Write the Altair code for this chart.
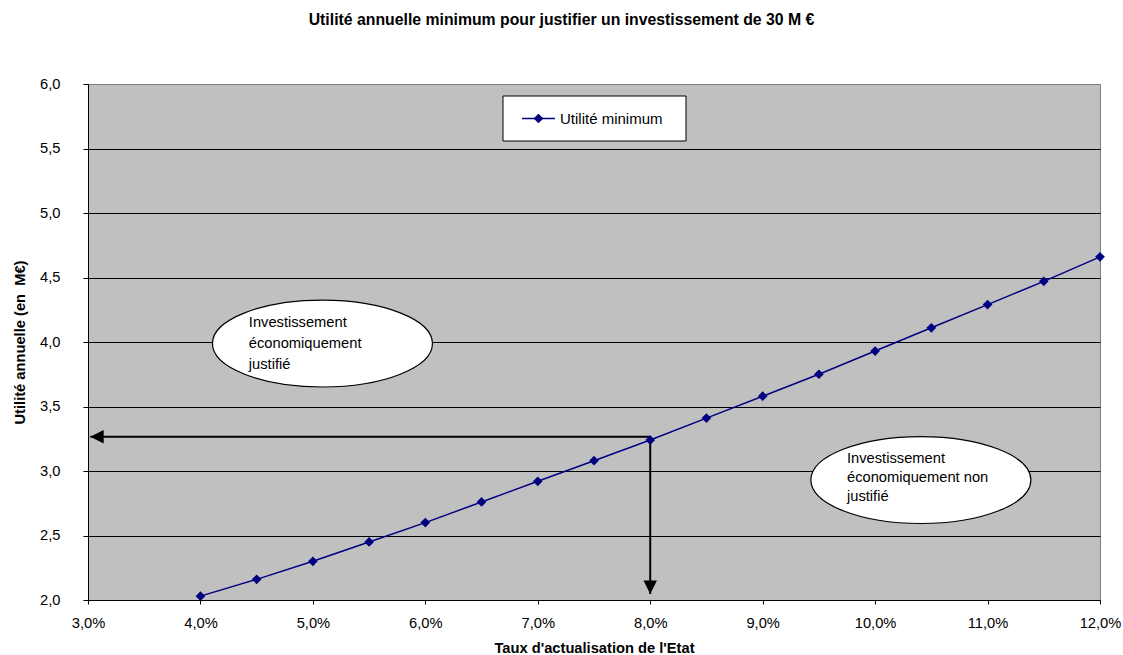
import altair as alt
import pandas as pd

# Discount rate (%) and minimum annual utility (M€)
taux = [4.0, 4.5, 5.0, 5.5, 6.0, 6.5, 7.0, 7.5, 8.0, 8.5, 9.0, 9.5, 10.0, 10.5, 11.0, 11.5, 12.0]
utilite = [2.03, 2.16, 2.30, 2.45, 2.60, 2.76, 2.92, 3.08, 3.24, 3.41, 3.58, 3.75, 3.93, 4.11, 4.29, 4.47, 4.66]

x_ticks = [3, 4, 5, 6, 7, 8, 9, 10, 11, 12]
y_ticks = [2.0, 2.5, 3.0, 3.5, 4.0, 4.5, 5.0, 5.5, 6.0]

serie = "Utilité minimum"
titre = "Utilité annuelle minimum pour justifier un investissement de 30 M €"
titre_x = "Taux d'actualisation de l'Etat"
titre_y = "Utilité annuelle (en\u00a0 M€)"

# Reading guide: from the 8 % rate up to the curve and across to the y axis
guide_taux = 8.0
guide_val = 3.265

# Ellipse callouts (centre in data units) and their text lines
bulle_x = [5.085, 10.407]
bulle_y = [3.988, 2.930]
texte_lignes = ["Investissement", "économiquement", "justifié",
                "Investissement", "économiquement non", "justifié"]
texte_x = [4.43, 4.43, 4.43, 9.75, 9.75, 9.75]
texte_y = [4.147, 3.984, 3.822, 3.090, 2.944, 2.798]

FONT = "Liberation Sans"
NAVY = "#000080"

df = pd.DataFrame({"taux": taux, "utilite": utilite})

xs = alt.Scale(domain=[3, 12], nice=False, zero=False)
ys = alt.Scale(domain=[2, 6], nice=False, zero=False)

lab_x = "replace(format(datum.value, '.1f'), '.', ',') + '%'"
lab_y = "replace(format(datum.value, '.1f'), '.', ',')"

x_enc = alt.X(
    "taux:Q", scale=xs,
    axis=alt.Axis(
        values=x_ticks, labelExpr=lab_x, grid=False, title=titre_x, labelFlush=False,
        domainColor="black", tickColor="black", tickSize=4, labelPadding=11,
        labelFont=FONT, labelFontSize=14.7, labelColor="black",
        titleFont=FONT, titleFontSize=14.7, titleFontWeight="bold", titleColor="black",
        titleX=506, titleY=48, titleBaseline="middle", titleAlign="center",
    ),
)
y_enc = alt.Y(
    "utilite:Q", scale=ys,
    axis=alt.Axis(
        values=y_ticks, labelExpr=lab_y, title=titre_y, labelFlush=False,
        grid=True, gridWidth=1,
        gridColor={"condition": {"test": "datum.value >= 6", "value": "#808080"}, "value": "black"},
        domainColor="black", tickColor="black", tickSize=5, labelPadding=23,
        labelFont=FONT, labelFontSize=14.7, labelColor="black",
        titleFont=FONT, titleFontSize=14.7, titleFontWeight="bold", titleColor="black",
        titleX=-68, titleY=258, titleAngle=270, titleBaseline="middle", titleAlign="center",
    ),
)

courbe = alt.Chart(df).mark_line(color=NAVY, strokeWidth=1.5).encode(x=x_enc, y=y_enc)
points = alt.Chart(df).mark_point(
    shape="diamond", filled=True, color=NAVY, size=95, opacity=1
).encode(x=alt.X("taux:Q", scale=xs), y=alt.Y("utilite:Q", scale=ys))

# Arrows
guide = pd.DataFrame({"x0": [guide_taux, guide_taux], "x1": [3.02, guide_taux],
                      "y0": [guide_val, guide_val], "y1": [guide_val, 2.047]})
fleches = alt.Chart(guide).mark_rule(color="black", strokeWidth=2).encode(
    x=alt.X("x0:Q", scale=xs), x2="x1:Q",
    y=alt.Y("y0:Q", scale=ys), y2="y1:Q",
)
pointes = alt.Chart(pd.DataFrame({
    "x": [3.02, guide_taux], "y": [guide_val, 2.047],
    "forme": ["M 0 0 L 2 -1 L 2 1 Z", "M 0 0 L -1 -2 L 1 -2 Z"],
})).mark_point(filled=True, color="black", opacity=1, size=180, strokeWidth=0).encode(
    x=alt.X("x:Q", scale=xs), y=alt.Y("y:Q", scale=ys),
    shape=alt.Shape("forme:N", scale=None),
)

# Callout ellipses
ellipse = "M -1 0 A 1 0.395 0 1 1 1 0 A 1 0.395 0 1 1 -1 0 Z"
bulles = alt.Chart(pd.DataFrame({"x": bulle_x, "y": bulle_y})).mark_point(
    shape=ellipse, filled=True, fill="white", stroke="black", strokeWidth=1.2,
    opacity=1, size=220 * 220,
).encode(x=alt.X("x:Q", scale=xs), y=alt.Y("y:Q", scale=ys))
textes = alt.Chart(pd.DataFrame({"t": texte_lignes, "x": texte_x, "y": texte_y})).mark_text(
    align="left", baseline="middle", font=FONT, fontSize=14.7, color="black"
).encode(x=alt.X("x:Q", scale=xs), y=alt.Y("y:Q", scale=ys), text="t:N")

# Legend box
leg_df = pd.DataFrame({"label": [serie]})
leg_box = alt.Chart(leg_df).mark_rect(fill="white", stroke="black", strokeWidth=1).encode(
    x=alt.value(415), x2=alt.value(598), y=alt.value(12), y2=alt.value(57))
leg_line = alt.Chart(leg_df).mark_rule(color=NAVY, strokeWidth=1.5).encode(
    x=alt.value(434), x2=alt.value(467), y=alt.value(34.5))
leg_pt = alt.Chart(leg_df).mark_point(shape="diamond", filled=True, color=NAVY, size=95, opacity=1).encode(
    x=alt.value(450.5), y=alt.value(34.5))
leg_txt = alt.Chart(leg_df).mark_text(
    align="left", baseline="middle", font=FONT, fontSize=15, color="black"
).encode(x=alt.value(472), y=alt.value(34.5), text="label:N")

# Chart heading, centred on the full figure width
titre_df = pd.DataFrame({"t": [titre]})
entete = alt.Chart(titre_df).mark_text(
    align="center", baseline="alphabetic", font=FONT, fontSize=15.8,
    fontWeight="bold", color="black",
).encode(x=alt.value(473.5), y=alt.value(-59.2), text="t:N")

chart = alt.layer(
    courbe, fleches, pointes, bulles, textes, points,
    leg_box, leg_line, leg_pt, leg_txt, entete,
).properties(
    width=1012, height=516,
    padding={"left": 88, "top": 84, "right": 23, "bottom": 55},
    autosize=alt.AutoSizeParams(type="none"),
    background="white",
).configure_view(
    fill="#C0C0C0", stroke="#808080", strokeWidth=1
)

chart.save("out.html", embed_options={"renderer": "svg", "actions": False})
